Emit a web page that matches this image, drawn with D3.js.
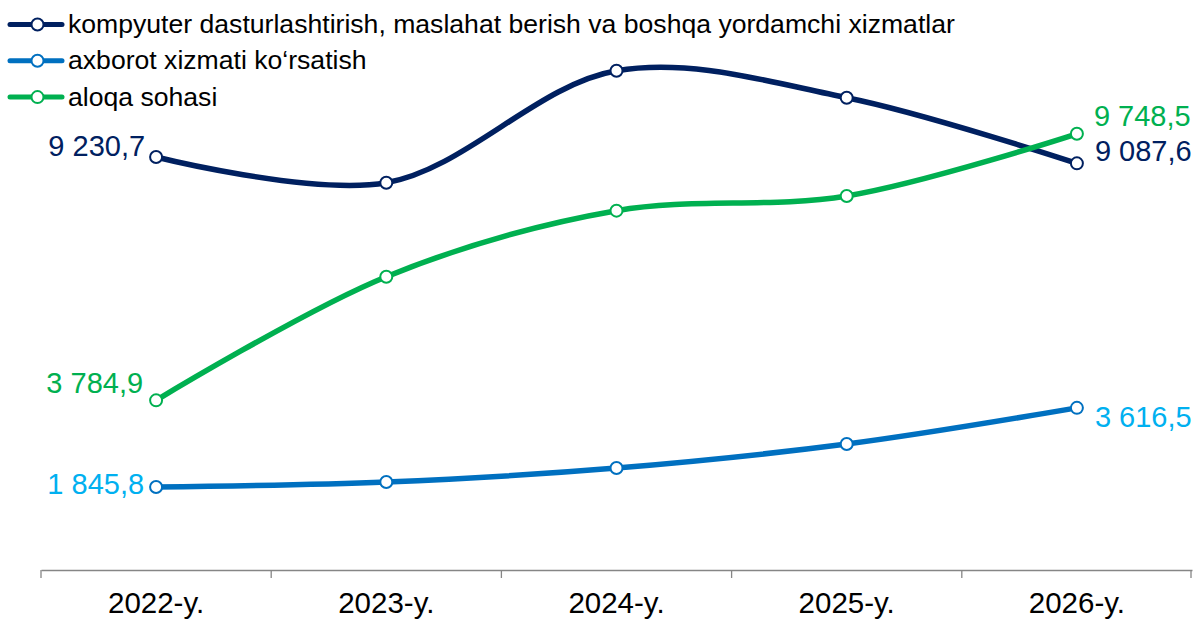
<!DOCTYPE html>
<html lang="uz">
<head>
<meta charset="utf-8">
<title>Chart</title>
<script src="https://cdn.jsdelivr.net/npm/d3@7"></script>
<style>
    body { margin: 0; background: #fff; }
    text { font-family: "Liberation Sans", Arial, sans-serif; }
</style>
</head>
<body>
<script>
    // data
    var years = ["2022-y.", "2023-y.", "2024-y.", "2025-y.", "2026-y."];
    var seriesNames = [
        "kompyuter dasturlashtirish, maslahat berish va boshqa yordamchi xizmatlar",
        "axborot xizmati ko\u2018rsatish",
        "aloqa sohasi"
    ];
    var kompyuter = [9230.7, 8655, 11160, 10557, 9087.6];
    var axborot = [1845.8, 1958, 2271, 2808, 3616.5];
    var aloqa = [3784.9, 6552, 8029, 8358, 9748.5];

    var w = 1193, h = 619;
    var svg = d3.select("body").append("svg")
        .attr("width", w)
        .attr("height", h);

    var x = d3.scaleBand().domain(years).range([41, 1192]);
    var y = d3.scaleLinear().domain([0, 12000]).range([569.5, 33.2]);

    var loc = d3.formatLocale({decimal: ",", thousands: " ", grouping: [3]});
    var fmt = loc.format(",.1f");

    // label offsets (dx, dy of text centre from the point)
    var series = [
        {name: seriesNames[0], values: kompyuter, color: "#002060", label: "#002060",
         first: [-11, -11], last: [18, -13]},
        {name: seriesNames[1], values: axborot, color: "#0070C0", label: "#00B0F0",
         first: [-12, -3], last: [18, 9]},
        {name: seriesNames[2], values: aloqa, color: "#00B050", label: "#00B050",
         first: [-13, -18], last: [17, -18]}
    ];

    // x axis
    var axis = svg.append("g")
        .attr("transform", "translate(0,570)")
        .call(d3.axisBottom(x).tickSize(0).tickPadding(22.5));
    axis.select(".domain").attr("stroke", "#868686").attr("stroke-width", 1.3);
    axis.selectAll(".tick text")
        .attr("font-size", "29.5px")
        .attr("fill", "#000")
        .attr("font-family", "Liberation Sans, Arial, sans-serif");
    var edges = years.map(function(d) { return x(d); }).concat([x.range()[1] - 1]);
    axis.selectAll(".sep")
        .data(edges)
        .enter()
        .append("line")
        .attr("x1", function(d) { return d; })
        .attr("x2", function(d) { return d; })
        .attr("y1", 0)
        .attr("y2", 8)
        .attr("stroke", "#868686")
        .attr("stroke-width", 1.3);

    var cx = function(d, i) { return x(years[i]) + x.bandwidth() / 2; };

    var line = d3.line()
        .x(cx)
        .y(function(d) { return y(d); })
        .curve(d3.curveCatmullRom.alpha(0.5));

    series.forEach(function(s) {
        svg.append("path")
            .attr("d", line(s.values))
            .attr("fill", "none")
            .attr("stroke", s.color)
            .attr("stroke-width", 5.5)
            .attr("stroke-linecap", "round");
    });

    series.forEach(function(s) {
        svg.selectAll(null)
            .data(s.values)
            .enter()
            .append("circle")
            .attr("cx", cx)
            .attr("cy", function(d) { return y(d); })
            .attr("r", 6)
            .attr("fill", "#fff")
            .attr("stroke", s.color)
            .attr("stroke-width", 2);

        var n = s.values.length - 1;
        svg.append("text")
            .attr("x", cx(s.values[0], 0) + s.first[0])
            .attr("y", y(s.values[0]) + s.first[1] + 10.4)
            .attr("text-anchor", "end")
            .attr("font-size", "29px")
            .attr("fill", s.label)
            .text(fmt(s.values[0]));
        svg.append("text")
            .attr("x", cx(s.values[n], n) + s.last[0])
            .attr("y", y(s.values[n]) + s.last[1] + 10.4)
            .attr("text-anchor", "start")
            .attr("font-size", "29px")
            .attr("fill", s.label)
            .text(fmt(s.values[n]));
    });

    // legend
    var legend = svg.selectAll(".legend")
        .data(series)
        .enter()
        .append("g")
        .attr("transform", function(d, i) { return "translate(0," + (24.5 + i * 36.3) + ")"; });
    legend.append("line")
        .attr("x1", 10).attr("x2", 62)
        .attr("y1", 0).attr("y2", 0)
        .attr("stroke", function(d) { return d.color; })
        .attr("stroke-width", 5)
        .attr("stroke-linecap", "round");
    legend.append("circle")
        .attr("cx", 37.5).attr("cy", 0).attr("r", 6)
        .attr("fill", "#fff")
        .attr("stroke", function(d) { return d.color; })
        .attr("stroke-width", 2);
    legend.append("text")
        .attr("x", 68)
        .attr("y", 8.5)
        .attr("font-size", "26.6px")
        .attr("fill", "#000")
        .text(function(d) { return d.name; });
</script>
</body>
</html>
